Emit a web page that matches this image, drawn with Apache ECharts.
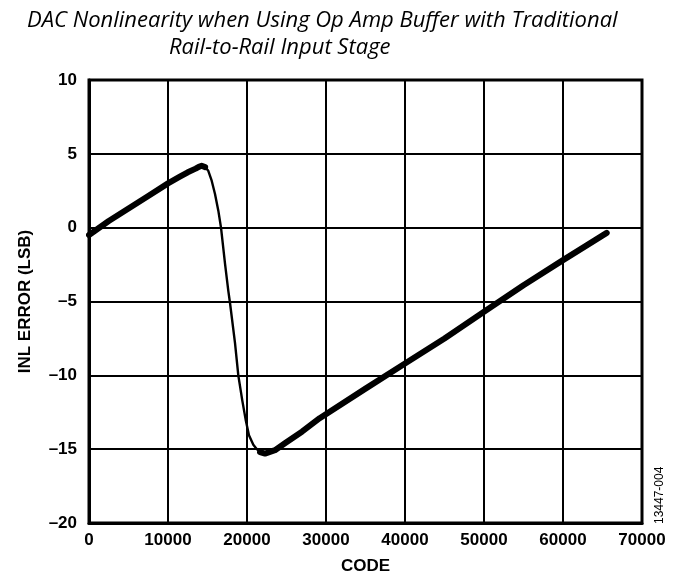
<!DOCTYPE html>
<html><head><meta charset="utf-8">
<script src="https://cdn.jsdelivr.net/npm/echarts@6/dist/echarts.min.js"></script>
<style>html,body{margin:0;padding:0;background:#fff}#c{width:681px;height:585px}</style>
</head><body><div id="c"></div>
<script>
var titleLine1 = 'DAC Nonlinearity when Using Op Amp Buffer with Traditional';
var titleLine2 = 'Rail-to-Rail Input Stage';
var xName = 'CODE';
var yName = 'INL ERROR (LSB)';
var figId = '13447-004';
var codes = [0, 2500, 5000, 7500, 10000, 11500, 12500, 13500, 13900, 14260, 14700, 15100, 15530, 15950, 16370, 16710, 17220, 17630, 17850, 18480, 18900, 19400, 19830, 20250, 20800, 21250, 21650, 22280, 23540, 24800, 27000, 29200, 35000, 40000, 45000, 50000, 55000, 60000, 63000, 65535];
var inl   = [-0.5, 0.45, 1.3, 2.15, 3.0, 3.45, 3.75, 4.0, 4.12, 4.19, 4.1, 3.85, 3.18, 2.28, 1.15, 0.0, -2.45, -4.26, -5.1, -7.8, -10.0, -11.7, -13.0, -14.05, -14.7, -15.0, -15.2, -15.3, -15.07, -14.6, -13.8, -12.9, -10.9, -9.2, -7.5, -5.7, -3.9, -2.2, -1.2, -0.35];
var noisyLow = 14800, noisyHigh = 21600;

var full = codes.map(function(c, i){ return [c, inl[i]]; });
var noisy = codes.map(function(c, i){ return (c <= noisyLow || c >= noisyHigh) ? [c, inl[i]] : [c, null]; });

var chart = echarts.init(document.getElementById('c'), null, {renderer:'canvas'});
var lab = {fontFamily:'Liberation Sans, Arial, sans-serif', fontWeight:'bold', fontSize:17, color:'#000'};
var tStyle = {fontStyle:'italic', fontSize:22, fontFamily:'"Open Sans", sans-serif', fill:'#000'};
chart.setOption({
  animation:false,
  grid:{left:89, right:39, top:80, bottom:62, show:false},
  graphic:[
    {type:'text', left:27, top:10, style:Object.assign({text:titleLine1}, tStyle)},
    {type:'text', left:169, top:37, style:Object.assign({text:titleLine2}, tStyle)},
    {type:'text', x:660, y:524, rotation:Math.PI/2, style:{text:figId, fontSize:12, fontFamily:'"Liberation Sans", Arial, sans-serif', fill:'#000', align:'left', verticalAlign:'middle'}},
    {type:'rect', shape:{x:89, y:80, width:553, height:443}, style:{fill:'none', stroke:'#000', lineWidth:3}, z:10}
  ],
  xAxis:{type:'value', min:0, max:70000, interval:10000,
    name:xName, nameLocation:'middle', nameGap:35, nameTextStyle:lab,
    axisLine:{show:true, onZero:false, lineStyle:{color:'#000', width:3}},
    axisTick:{show:false},
    axisLabel:Object.assign({}, lab, {margin:9, formatter:function(v){ return String(v); }}),
    splitLine:{show:true, lineStyle:{color:'#000', width:2}}
  },
  yAxis:{type:'value', min:-20, max:10, interval:5,
    name:yName, nameLocation:'middle', nameGap:55, nameRotate:90, nameTextStyle:lab,
    axisLine:{show:true, onZero:false, lineStyle:{color:'#000', width:3}},
    axisTick:{show:false},
    axisLabel:Object.assign({}, lab, {margin:12, formatter:function(v){ return String(v).replace('-', '\u2013'); }}),
    splitLine:{show:true, lineStyle:{color:'#000', width:2}}
  },
  series:[
    {type:'line', data:full, symbol:'none', smooth:false, lineStyle:{color:'#000', width:2.4, join:'round'}, z:3},
    {type:'line', data:noisy, symbol:'none', smooth:false, connectNulls:false, lineStyle:{color:'#000', width:6, cap:'round', join:'round'}, z:3}
  ]
});
</script></body></html>
